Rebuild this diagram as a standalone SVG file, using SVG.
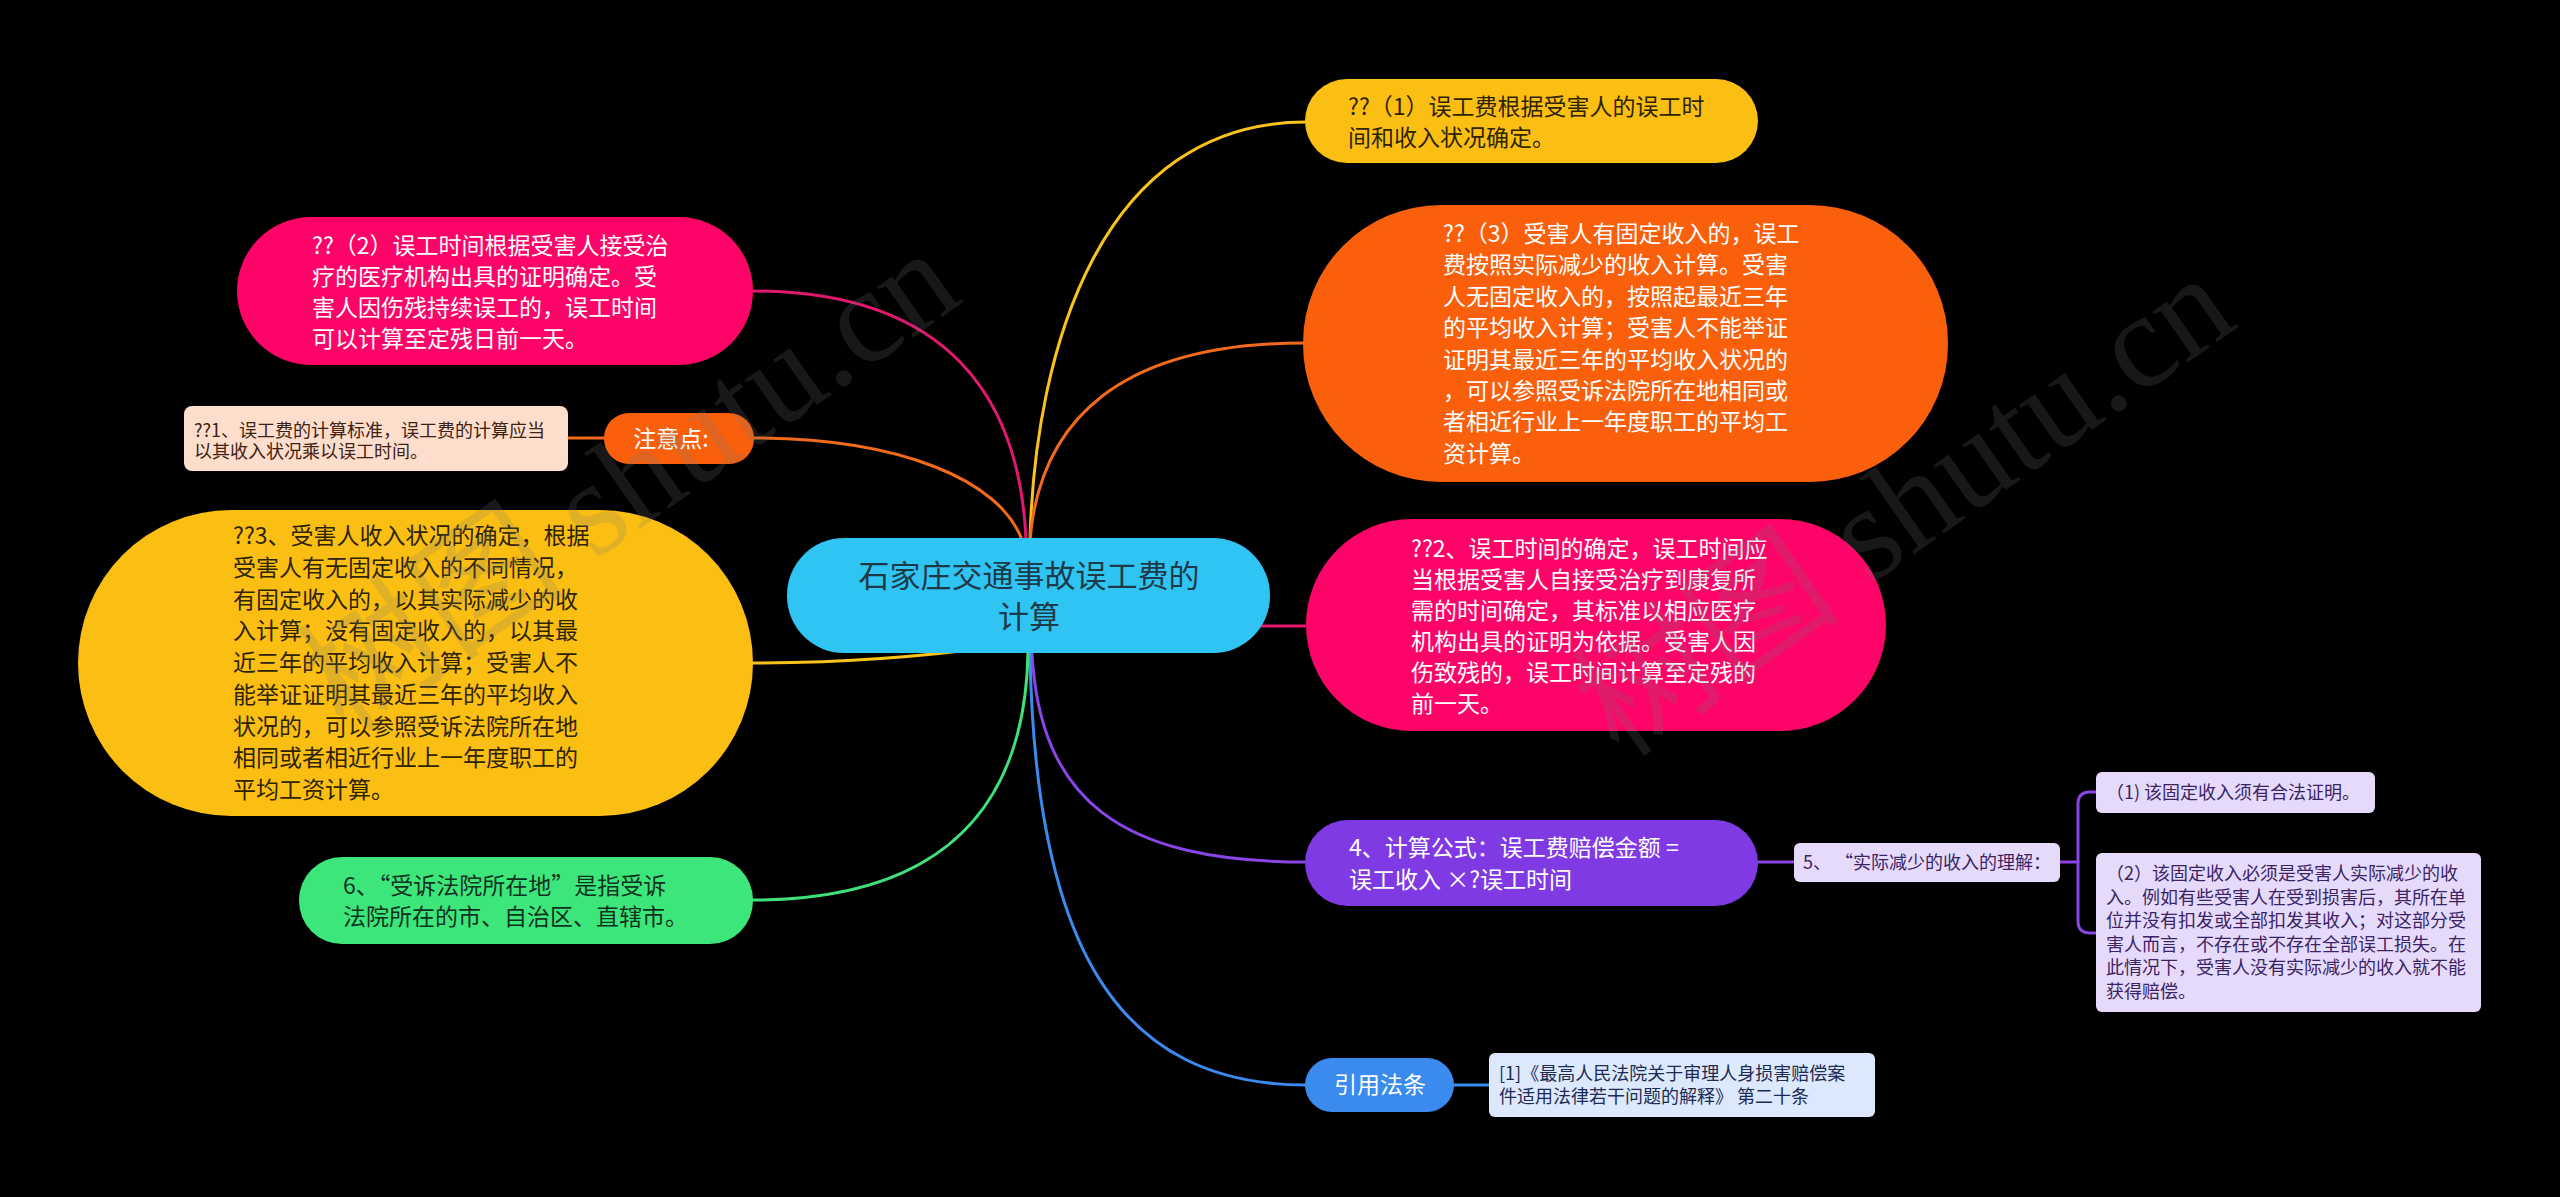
<svg xmlns="http://www.w3.org/2000/svg" width="2560" height="1197" viewBox="0 0 2560 1197">
<style>
text{font-family:"Noto Sans CJK SC","Liberation Sans",sans-serif;}
.t23{font-size:23px;}
.t18{font-size:18px;}
.w{fill:#ffffff;}
.dk{fill:#2e2400;}
.c{fill:none;stroke-width:3;stroke-linecap:round;}
.wm{font-family:"Liberation Serif","Noto Sans CJK SC",serif;font-size:135px;fill:#7a7a7a;fill-opacity:0.2;}
</style>
<rect x="0" y="0" width="2560" height="1197" fill="#000000"/>

<g id="connectors">
<path class="c" stroke="#F9C31C" d="M1030 540 C1035 350 1100 122 1306 122"/>
<path class="c" stroke="#F26A1B" d="M1030 540 C1040 420 1120 343 1304 343"/>
<path class="c" stroke="#E8146E" d="M1240 626 L1307 626"/>
<path class="c" stroke="#8A45E6" d="M1032 653 C1040 800 1120 862 1306 862"/>
<path class="c" stroke="#3B8BEF" d="M1030 653 C1035 950 1120 1085 1306 1085"/>
<path class="c" stroke="#E0186E" d="M1026 540 C1020 400 950 291 752 291"/>
<path class="c" stroke="#F26A1B" d="M1022 540 C1000 480 900 438 752 438"/>
<path class="c" stroke="#F9C31C" d="M1000 646 C900 660 820 663 752 663"/>
<path class="c" stroke="#3FE07C" d="M1028 653 C1025 800 950 900 752 900"/>
<path class="c" stroke="#F26A1B" d="M568 438 L605 438"/>
<path class="c" stroke="#8A45E6" d="M1757 862 L1795 862"/>
<path class="c" stroke="#8A45E6" d="M2060 862 L2078 862"/>
<path class="c" stroke="#8A45E6" d="M2097 792 L2090 792 Q2078 792 2078 804 L2078 921 Q2078 933 2090 933 L2097 933"/>
<path class="c" stroke="#3B8BEF" d="M1453 1085 L1490 1085"/>
</g>

<g id="center">
<rect x="787" y="538" width="483" height="115" rx="57" fill="#30C4F2"/>
<text x="1029" y="587" font-size="31" text-anchor="middle" fill="#1E3A48">石家庄交通事故误工费的</text>
<text x="1029" y="628" font-size="31" text-anchor="middle" fill="#1E3A48">计算</text>
</g>

<g id="n-r1">
<rect x="1305" y="79" width="453" height="84" rx="42" fill="#FBBE13"/>
<text class="t23 dk" x="1348" y="115">??（1）误工费根据受害人的误工时</text>
<text class="t23 dk" x="1348" y="146">间和收入状况确定。</text>
</g>

<g id="n-r2">
<rect x="1303" y="205" width="645" height="277" rx="138" fill="#FA5F0C"/>
<text class="t23 w" x="1443" y="242">??（3）受害人有固定收入的，误工</text>
<text class="t23 w" x="1443" y="273.4">费按照实际减少的收入计算。受害</text>
<text class="t23 w" x="1443" y="304.8">人无固定收入的，按照起最近三年</text>
<text class="t23 w" x="1443" y="336.2">的平均收入计算；受害人不能举证</text>
<text class="t23 w" x="1443" y="367.6">证明其最近三年的平均收入状况的</text>
<text class="t23 w" x="1443" y="399">，可以参照受诉法院所在地相同或</text>
<text class="t23 w" x="1443" y="430.4">者相近行业上一年度职工的平均工</text>
<text class="t23 w" x="1443" y="461.8">资计算。</text>
</g>

<g id="n-r3">
<rect x="1306" y="519" width="580" height="212" rx="106" fill="#FC0468"/>
<text class="t23 w" x="1411" y="557">??2、误工时间的确定，误工时间应</text>
<text class="t23 w" x="1411" y="588">当根据受害人自接受治疗到康复所</text>
<text class="t23 w" x="1411" y="619">需的时间确定，其标准以相应医疗</text>
<text class="t23 w" x="1411" y="650">机构出具的证明为依据。受害人因</text>
<text class="t23 w" x="1411" y="681">伤致残的，误工时间计算至定残的</text>
<text class="t23 w" x="1411" y="712">前一天。</text>
</g>

<g id="n-r4">
<rect x="1305" y="820" width="453" height="86" rx="43" fill="#7F3AE4"/>
<text class="t23 w" x="1349" y="856">4、计算公式：误工费赔偿金额  =</text>
<text class="t23 w" x="1349" y="888">误工收入 ×?误工时间</text>
</g>

<g id="n-r4a">
<rect x="1794" y="843" width="266" height="39" rx="6" fill="#E6DAFA"/>
<text class="t18" x="1803" y="869" fill="#3A2466" xml:space="preserve">5、 “实际减少的收入的理解：</text>
</g>

<g id="n-r4a1">
<rect x="2096" y="772" width="279" height="41" rx="6" fill="#E6DAFA"/>
<text class="t18" x="2106" y="799" fill="#3A2466">（1) 该固定收入须有合法证明。</text>
</g>

<g id="n-r4a2">
<rect x="2096" y="853" width="385" height="159" rx="6" fill="#E6DAFA"/>
<text class="t18" x="2106" y="880" fill="#3A2466">（2）该固定收入必须是受害人实际减少的收</text>
<text class="t18" x="2106" y="903.6" fill="#3A2466">入。例如有些受害人在受到损害后，其所在单</text>
<text class="t18" x="2106" y="927.2" fill="#3A2466">位并没有扣发或全部扣发其收入；对这部分受</text>
<text class="t18" x="2106" y="950.8" fill="#3A2466">害人而言，不存在或不存在全部误工损失。在</text>
<text class="t18" x="2106" y="974.4" fill="#3A2466">此情况下，受害人没有实际减少的收入就不能</text>
<text class="t18" x="2106" y="998" fill="#3A2466">获得赔偿。</text>
</g>

<g id="n-r5">
<rect x="1305" y="1058" width="149" height="54" rx="27" fill="#3B8BEF"/>
<text class="t23 w" x="1380" y="1093" text-anchor="middle">引用法条</text>
</g>

<g id="n-r5a">
<rect x="1489" y="1053" width="386" height="64" rx="6" fill="#DCE8FC"/>
<text class="t18" x="1499" y="1080" fill="#1D2B55">[1]《最高人民法院关于审理人身损害赔偿案</text>
<text class="t18" x="1499" y="1103" fill="#1D2B55">件适用法律若干问题的解释》 第二十条</text>
</g>

<g id="n-l1">
<rect x="237" y="217" width="516" height="148" rx="74" fill="#FC0468"/>
<text class="t23 w" x="312" y="254">??（2）误工时间根据受害人接受治</text>
<text class="t23 w" x="312" y="285">疗的医疗机构出具的证明确定。受</text>
<text class="t23 w" x="312" y="316">害人因伤残持续误工的，误工时间</text>
<text class="t23 w" x="312" y="347">可以计算至定残日前一天。</text>
</g>

<g id="n-l2">
<rect x="604" y="413" width="150" height="51" rx="25" fill="#FA5F0C"/>
<text class="t23 w" x="671" y="447" text-anchor="middle">注意点:</text>
</g>

<g id="n-l2a">
<rect x="184" y="406" width="384" height="65" rx="8" fill="#FDDDCB"/>
<text class="t18" x="194" y="437" fill="#3E2212">??1、误工费的计算标准，误工费的计算应当</text>
<text class="t18" x="194" y="458" fill="#3E2212">以其收入状况乘以误工时间。</text>
</g>

<g id="n-l3">
<rect x="78" y="510" width="675" height="306" rx="153" fill="#FBBE13"/>
<text class="t23 dk" x="233" y="544">??3、受害人收入状况的确定，根据</text>
<text class="t23 dk" x="233" y="575.75">受害人有无固定收入的不同情况，</text>
<text class="t23 dk" x="233" y="607.5">有固定收入的，以其实际减少的收</text>
<text class="t23 dk" x="233" y="639.25">入计算；没有固定收入的，以其最</text>
<text class="t23 dk" x="233" y="671">近三年的平均收入计算；受害人不</text>
<text class="t23 dk" x="233" y="702.75">能举证证明其最近三年的平均收入</text>
<text class="t23 dk" x="233" y="734.5">状况的，可以参照受诉法院所在地</text>
<text class="t23 dk" x="233" y="766.25">相同或者相近行业上一年度职工的</text>
<text class="t23 dk" x="233" y="798">平均工资计算。</text>
</g>

<g id="n-l4">
<rect x="299" y="857" width="454" height="87" rx="43" fill="#3DE67B"/>
<text class="t23" x="343" y="894" fill="#10331F">6、“受诉法院所在地”是指受诉</text>
<text class="t23" x="343" y="925" fill="#10331F">法院所在的市、自治区、直辖市。</text>
</g>

<g id="watermarks">
<text class="wm" x="345" y="735" transform="rotate(-35 345 735)">树图 shutu.cn</text>
<text class="wm" x="1620" y="760" transform="rotate(-35 1620 760)">树图 shutu.cn</text>
</g>
</svg>
